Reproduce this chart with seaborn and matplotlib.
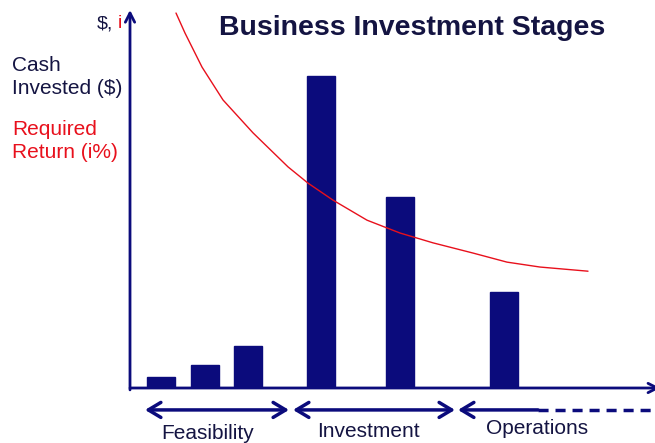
import pandas as pd
import matplotlib
matplotlib.use("Agg")
import matplotlib.pyplot as plt
import seaborn as sns

# stage timeline (arbitrary time units) and cash invested (arbitrary %)
bar_x = [0.62, 1.50, 2.36, 3.82, 5.40, 7.48]
cash_invested = [2.9, 6.1, 11.1, 82.5, 50.5, 25.4]

# required return curve
curve_x = [0.92, 1.10, 1.44, 1.86, 2.46, 3.16, 3.56, 4.06, 4.74, 5.40,
           6.06, 6.86, 7.54, 8.20, 9.16]
required_return = [99.2, 93.9, 84.9, 76.2, 67.5, 58.5, 54.2, 49.7, 44.4, 41.0,
                   38.4, 35.7, 33.3, 32.0, 30.9]

stages = ["Feasibility", "Investment", "Operations"]
stage_start = [0.30, 3.26, 6.56]
stage_end = [3.18, 6.50, 8.16]
stage_dash_end = 10.5

NAVY = "#0b0b7c"
TEXT_NAVY = "#141442"
RED = "#e8101c"

sns.set_theme(style="white")
plt.rcParams["font.family"] = ["Liberation Sans", "DejaVu Sans"]

fig = plt.figure(figsize=(6.55, 4.43), dpi=100)
ax = fig.add_axes([130 / 655, 55 / 443, 525 / 655, 378 / 443])

bars = pd.DataFrame({"x": bar_x, "cash": cash_invested})
sns.barplot(data=bars, x="x", y="cash", native_scale=True, width=0.65,
            color=NAVY, saturation=1, edgecolor=NAVY, ax=ax)

curve = pd.DataFrame({"x": curve_x, "ret": required_return})
sns.lineplot(data=curve, x="x", y="ret", color=RED, linewidth=1.0, ax=ax)

ax.set_xlim(0, 10.5)
ax.set_ylim(0, 100)
ax.set_xlabel("")
ax.set_ylabel("")
ax.set_xticks([])
ax.set_yticks([])
for s in ax.spines.values():
    s.set_visible(False)

# axes with arrow heads
head = "->,head_length=0.55,head_width=0.28"
ax.annotate("", xy=(0, 1.0), xytext=(0, -0.005), xycoords="axes fraction",
            arrowprops=dict(arrowstyle=head, color=NAVY, lw=2,
                            shrinkA=0, shrinkB=0), annotation_clip=False)
ax.annotate("", xy=(1.01, 0), xytext=(0, 0), xycoords="axes fraction",
            arrowprops=dict(arrowstyle=head, color=NAVY, lw=2,
                            shrinkA=0, shrinkB=0), annotation_clip=False)

# stage arrows under the axis
arrow_y = -5.8
label_y = [-12.0, -11.4, -10.6]
label_x = [1.56, 4.76, 8.14]
for i, name in enumerate(stages):
    style = "<->" if i < 2 else "<-"
    ax.annotate("", xy=(stage_end[i], arrow_y), xytext=(stage_start[i], arrow_y),
                xycoords="data",
                arrowprops=dict(arrowstyle=style + ",head_length=0.75,head_width=0.45",
                                color=NAVY, lw=2.5, shrinkA=0, shrinkB=0),
                annotation_clip=False)
    ax.text(label_x[i], label_y[i], name, ha="center", va="center",
            fontsize=15, color=TEXT_NAVY, clip_on=False)
# operations continues as a dashed line
ax.plot([stage_end[2], stage_dash_end], [arrow_y, arrow_y], color=NAVY,
        lw=2.5, ls=(0, (2.9, 2.0)), solid_capstyle="butt", clip_on=False)

fig.text(412 / 655, 1 - 28 / 443, "Business Investment Stages", ha="center",
         va="center", fontsize=20.5, fontweight="bold", color=TEXT_NAVY)

fig.text(97 / 655, 1 - 24 / 443, "$,", ha="left", va="center",
         fontsize=14, color=TEXT_NAVY)
fig.text(118 / 655, 1 - 24 / 443, "i", ha="left", va="center",
         fontsize=14, color=RED)
fig.text(12 / 655, 1 - 77 / 443, "Cash\nInvested ($)", ha="left", va="center",
         fontsize=15, color=TEXT_NAVY, linespacing=1.3)
fig.text(12 / 655, 1 - 141 / 443, "Required\nReturn (i%)", ha="left", va="center",
         fontsize=15, color=RED, linespacing=1.3)

fig.savefig("out.png", dpi=100)
